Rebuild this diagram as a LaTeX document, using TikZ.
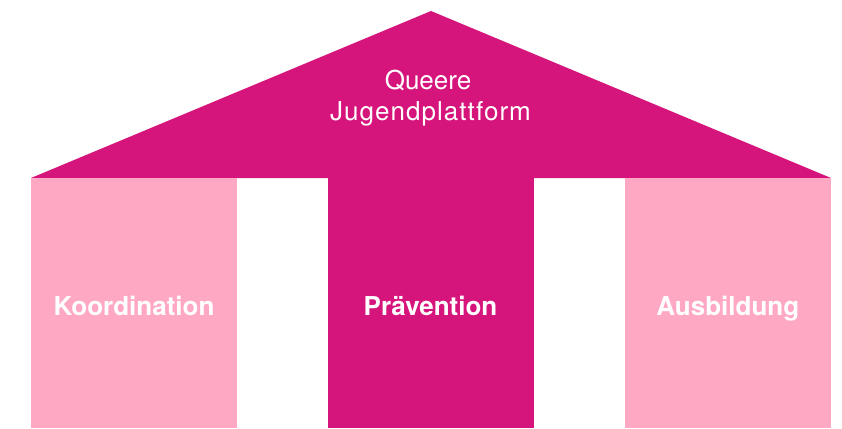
\documentclass[tikz,border=0pt]{standalone}
\usepackage{fontspec}
\setmainfont{TeX Gyre Heros}
\newfontfamily\widefont[LetterSpace=4]{TeX Gyre Heros}
\definecolor{magenta}{RGB}{214,21,124}
\definecolor{rosa}{RGB}{255,168,196}
\tikzset{
  pillar/.style={draw=none, fill=#1, inner sep=0pt, minimum width=206pt, minimum height=250pt, anchor=north west},
  boldlabel/.style={text=white, font=\fontsize{26}{30}\selectfont\bfseries, anchor=base, inner sep=0pt},
  rooflabel/.style={text=white, font=\fontsize{26}{31}\selectfont, anchor=base, inner sep=0pt}
}
\begin{document}
\begin{tikzpicture}[x=1pt,y=-1pt]
\useasboundingbox (0,0) rectangle (842,428);
\coordinate (apex) at (431,11);
\coordinate (roofL) at (31,178);
\coordinate (roofR) at (831,178);
\fill[magenta] (roofL) -- (apex) -- (roofR) -- cycle;
\node[pillar=rosa] (koord) at (31,178) {};
\node[pillar=magenta] (praev) at (328,178) {};
\node[pillar=rosa] (ausb) at (625,178) {};
\node[boldlabel] (tkoord) at (134,315.7) {Koordination};
\node[boldlabel] (tpraev) at (430.5,315.7) {Prävention};
\node[boldlabel] (tausb) at (727.8,315.7) {Ausbildung};
\node[rooflabel] (t1) at (428,89.5) {Queere};
\node[rooflabel] (t2) at (430.5,120) {\widefont Jugendplattform};
\end{tikzpicture}
\end{document}
